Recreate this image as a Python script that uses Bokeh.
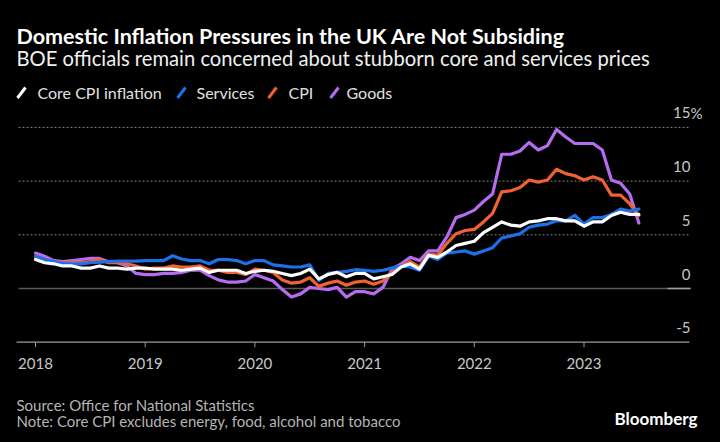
from bokeh.plotting import figure
from bokeh.models import Label, Range1d
from bokeh.core.properties import value
from bokeh.embed import file_html
from bokeh.resources import INLINE

# ---------------- data (monthly, Jan 2018 - Jul 2023, % y/y) ----------------
start_year = 2018
core = [2.7, 2.4, 2.3, 2.1, 2.1, 1.9, 1.9, 2.1, 1.9, 1.9, 1.8, 1.9,
        1.9, 1.8, 1.8, 1.8, 1.7, 1.8, 1.9, 1.5, 1.7, 1.7, 1.7, 1.4,
        1.6, 1.7, 1.6, 1.4, 1.2, 1.4, 1.8, 0.9, 1.3, 1.5, 1.1, 1.4,
        1.4, 0.9, 1.1, 1.3, 2.0, 2.3, 1.8, 3.1, 2.9, 3.4, 4.0, 4.2,
        4.4, 5.2, 5.7, 6.2, 5.9, 5.8, 6.2, 6.3, 6.5, 6.5, 6.3, 6.3,
        5.8, 6.2, 6.2, 6.8, 7.1, 6.9, 6.9]
services = [3.0, 2.7, 2.5, 2.35, 2.3, 2.3, 2.4, 2.45, 2.5, 2.55, 2.55, 2.55,
            2.6, 2.6, 2.6, 3.05, 2.75, 2.6, 2.6, 2.3, 2.7, 2.7, 2.6, 2.3,
            2.6, 2.6, 2.2, 2.1, 2.0, 2.0, 2.2, 0.75, 1.4, 1.5, 1.6, 1.75,
            1.7, 1.6, 1.7, 1.9, 2.1, 2.0, 1.7, 3.0, 2.7, 3.3, 3.4, 3.5,
            3.2, 3.5, 3.8, 4.7, 4.9, 5.1, 5.7, 5.9, 6.0, 6.3, 6.3, 6.8,
            6.0, 6.6, 6.6, 6.9, 7.4, 7.2, 7.4]
cpi = [3.0, 2.7, 2.5, 2.4, 2.4, 2.4, 2.5, 2.7, 2.4, 2.4, 2.3, 2.1,
       1.8, 1.9, 1.9, 2.1, 2.0, 2.0, 2.1, 1.7, 1.7, 1.5, 1.5, 1.3,
       1.8, 1.7, 1.5, 0.8, 0.5, 0.6, 1.0, 0.2, 0.5, 0.7, 0.3, 0.6,
       0.7, 0.4, 0.7, 1.5, 2.1, 2.5, 2.0, 3.2, 3.1, 4.2, 5.1, 5.4,
       5.5, 6.2, 7.0, 9.0, 9.1, 9.4, 10.1, 9.9, 10.1, 11.1, 10.7, 10.5,
       10.1, 10.4, 10.1, 8.7, 8.7, 7.9, 6.8]
goods = [3.3, 3.0, 2.6, 2.5, 2.6, 2.7, 2.8, 2.8, 2.5, 2.4, 2.1, 1.4,
         1.3, 1.3, 1.4, 1.4, 1.5, 1.7, 1.7, 1.2, 0.8, 0.6, 0.6, 0.7,
         1.3, 1.0, 0.7, -0.1, -0.8, -0.5, 0.1, 0.0, -0.1, 0.1, -0.8, -0.3,
         -0.3, -0.5, 0.1, 1.8, 2.3, 2.9, 2.6, 3.5, 3.5, 4.8, 6.6, 6.9,
         7.3, 8.1, 8.8, 12.5, 12.5, 12.8, 13.6, 12.9, 13.3, 14.8, 14.1, 13.5,
         13.5, 13.5, 12.9, 10.1, 9.8, 8.8, 6.1]
months = [start_year + i / 12 for i in range(len(core))]

year_ticks = [2018, 2019, 2020, 2021, 2022, 2023]
year_labels = ["2018", "2019", "2020", "2021", "2022", "2023"]
y_ticks = [15, 10, 5, 0, -5]
y_tick_labels = ["15", "10", "5", "0", "-5"]

series_names = ["Core CPI inflation", "Services", "CPI", "Goods"]
series_colors = ["#ffffff", "#1c70ea", "#f2612f", "#b66cee"]

# ---------------- geometry helpers (page pixels -> data) ----------------
W, H = 720, 442
PX_YEAR = 109.7
PX_UNIT = 10.74
X_2018 = 35.0   # page x of Jan 2018
Y_ZERO = 288.0  # page y of 0%


def dx(px):
    return 2018 + (px - X_2018) / PX_YEAR


def dy(py):
    return (Y_ZERO - py) / PX_UNIT


p = figure(width=W, height=H, output_backend="svg", toolbar_location=None,
           x_range=Range1d(dx(0), dx(W)), y_range=Range1d(dy(H), dy(0)),
           x_axis_location=None, y_axis_location=None,
           min_border_left=0, min_border_right=0, min_border_top=0, min_border_bottom=0)
p.background_fill_color = "#000000"
p.border_fill_color = "#000000"
p.outline_line_color = None
p.grid.visible = False

FONT = "Lato"
TICK_COLOR = "#c8c8c8"

# grid lines (dotted) and zero line
grid_vals = [t for t in y_ticks if t > 0]
p.segment(x0=[dx(18)] * len(grid_vals), y0=grid_vals, x1=[dx(688)] * len(grid_vals), y1=grid_vals,
          line_color="#808080", line_width=1, line_dash="2 2")
p.segment(x0=[dx(18)], y0=[0], x1=[dx(690)], y1=[0], line_color="#5a5a5a", line_width=1.5)
p.segment(x0=[dx(667)], y0=[0], x1=[dx(690)], y1=[0], line_color="#a0a0a0", line_width=1.5)

# x axis: baseline at the bottom value, ticks and year labels
y_base = y_ticks[-1]
p.segment(x0=[dx(16)], y0=[y_base], x1=[dx(689)], y1=[y_base], line_color="#9a9a9a", line_width=1.2)
p.segment(x0=year_ticks, y0=[y_base] * len(year_ticks), x1=year_ticks,
          y1=[y_base - 5 / PX_UNIT] * len(year_ticks), line_color="#9a9a9a", line_width=1)
p.text(x=year_ticks, y=[y_base] * len(year_ticks), text=year_labels, text_align="center",
       text_baseline="middle", y_offset=21, text_color=TICK_COLOR,
       text_font=value(FONT), text_font_size="15px")

# y tick labels (inside, right aligned, above the gridline)
p.text(x=[dx(690)] * len(y_ticks), y=y_ticks, text=y_tick_labels, text_align="right",
       text_baseline="middle", y_offset=-14.5, text_color=TICK_COLOR,
       text_font=value(FONT), text_font_size="15px")
p.text(x=[dx(690)], y=[y_ticks[0]], text=["%"], text_align="left",
       text_baseline="middle", y_offset=-14.5, text_color=TICK_COLOR,
       text_font=value(FONT), text_font_size="15px")

# series lines (goods at bottom, core on top)
for vals, col in [(goods, series_colors[3]), (cpi, series_colors[2]),
                  (services, series_colors[1]), (core, series_colors[0])]:
    p.line(months, vals, line_color=col, line_width=3.2, line_join="round", line_cap="round")

# titles
p.add_layout(Label(x=dx(16), y=dy(35.5), text="Domestic Inflation Pressures in the UK Are Not Subsiding",
                   text_font=FONT, text_font_size="21.5px", text_font_style="bold",
                   text_color="#ffffff", text_baseline="middle"))
p.add_layout(Label(x=dx(16), y=dy(57.5), text="BOE officials remain concerned about stubborn core and services prices",
                   text_font=FONT, text_font_size="20.2px", text_color="#f0f0f0", text_baseline="middle"))

# legend
slash_x = [17, 177, 268, 330]
text_x = [37, 196, 288, 346]
p.segment(x0=[dx(v) for v in slash_x], y0=[dy(97.5)] * 4, x1=[dx(v + 8) for v in slash_x], y1=[dy(87)] * 4,
          line_color=series_colors, line_width=3)
for name, tx in zip(series_names, text_x):
    p.add_layout(Label(x=dx(tx), y=dy(92.3), text=name, text_font=FONT, text_font_size="16px",
                       text_color="#e0e0e0", text_baseline="middle"))

# footer
p.add_layout(Label(x=dx(16), y=dy(404), text="Source: Office for National Statistics",
                   text_font=FONT, text_font_size="15px", text_color="#b4b4b4", text_baseline="middle"))
p.add_layout(Label(x=dx(16), y=dy(420.5), text="Note: Core CPI excludes energy, food, alcohol and tobacco",
                   text_font=FONT, text_font_size="15px", text_color="#b4b4b4", text_baseline="middle"))
p.add_layout(Label(x=dx(697), y=dy(418), text="Bloomberg", text_align="right",
                   text_font=FONT, text_font_size="17px", text_font_style="bold",
                   text_color="#ffffff", text_baseline="middle"))

html = file_html(p, INLINE, "Domestic Inflation Pressures in the UK")
html = html.replace("</head>", "<style>html,body{background:#000000;}</style></head>", 1)
open("out.html", "w").write(html)
